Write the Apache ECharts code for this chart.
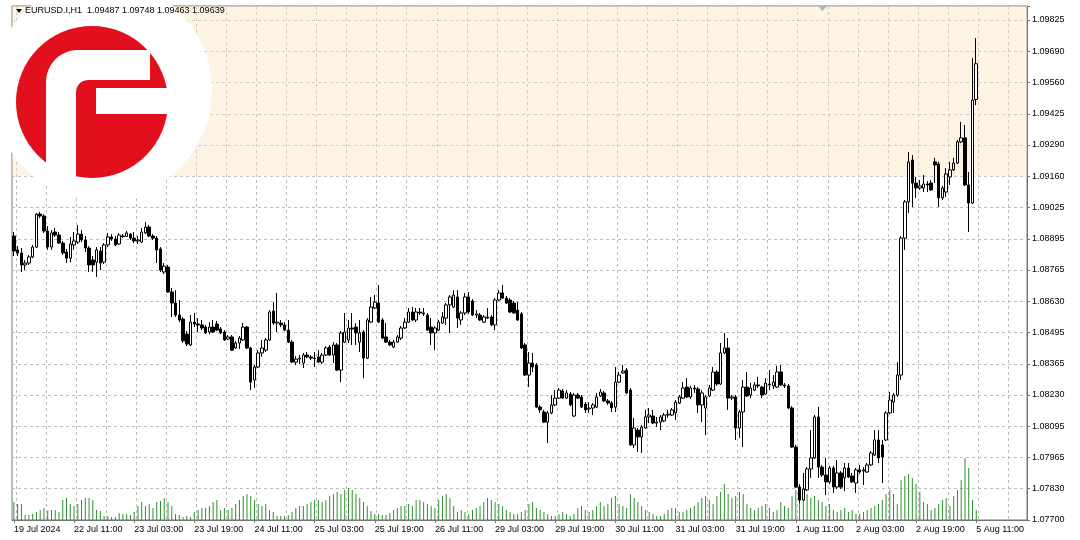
<!DOCTYPE html>
<html><head><meta charset="utf-8">
<script src="https://cdn.jsdelivr.net/npm/echarts@6/dist/echarts.min.js"></script>
<style>html,body{margin:0;padding:0;background:#fff}#c{width:1080px;height:540px}</style>
</head><body><div id="c"></div>
<script>
// ---- data (EURUSD.I, H1) ----
const dayList = ['19 Jul','22 Jul','23 Jul','24 Jul','25 Jul','26 Jul','29 Jul','30 Jul','31 Jul','1 Aug','2 Aug','5 Aug'];
const xTickLabels = ['19 Jul 2024','22 Jul 11:00','23 Jul 03:00','23 Jul 19:00','24 Jul 11:00','25 Jul 03:00','25 Jul 19:00','26 Jul 11:00','29 Jul 03:00','29 Jul 19:00','30 Jul 11:00','31 Jul 03:00','31 Jul 19:00','1 Aug 11:00','2 Aug 03:00','2 Aug 19:00','5 Aug 11:00'];
const yTickLabels = ['1.07700','1.07830','1.07965','1.08095','1.08230','1.08365','1.08495','1.08630','1.08765','1.08895','1.09025','1.09160','1.09290','1.09425','1.09560','1.09690','1.09825'];
const header = 'EURUSD.I,H1  1.09487 1.09748 1.09463 1.09639';
const lastPrice = 1.09639;
const zoneLow = 1.0916;

const openP = [
1.08907,1.08848,1.08835,1.08784,1.08792,1.08818,1.08860,1.09000,1.08992,1.08928,
1.08860,1.08924,1.08911,1.08877,1.08839,1.08813,1.08869,1.08881,1.08915,1.08890,
1.08856,1.08805,1.08796,1.08843,1.08796,1.08869,1.08903,1.08894,1.08873,1.08907,
1.08905,1.08915,1.08898,1.08886,1.08881,1.08920,1.08945,1.08907,1.08898,1.08852,
1.08754,1.08775,1.08669,1.08622,1.08571,1.08554,1.08490,1.08444,1.08541,1.08533,
1.08529,1.08520,1.08499,1.08520,1.08533,1.08512,1.08499,1.08469,1.08478,1.08431,
1.08452,1.08465,1.08520,1.08431,1.08295,1.08350,1.08410,1.08422,1.08465,1.08588,
1.08537,1.08537,1.08529,1.08507,1.08456,1.08371,1.08384,1.08367,1.08401,1.08393,
1.08388,1.08393,1.08371,1.08401,1.08435,1.08401,1.08444,1.08337,1.08456,1.08465,
1.08516,1.08520,1.08456,1.08499,1.08388,1.08541,1.08601,1.08622,1.08550,1.08478,
1.08456,1.08435,1.08456,1.08473,1.08516,1.08541,1.08584,1.08550,1.08584,1.08580,
1.08571,1.08520,1.08495,1.08507,1.08537,1.08558,1.08614,1.08605,1.08648,1.08550,
1.08580,1.08648,1.08631,1.08571,1.08571,1.08541,1.08563,1.08563,1.08529,1.08635,
1.08665,1.08643,1.08635,1.08622,1.08592,1.08576,1.08444,1.08316,1.08367,1.08359,
1.08180,1.08159,1.08116,1.08155,1.08189,1.08218,1.08248,1.08218,1.08235,1.08142,
1.08231,1.08223,1.08193,1.08172,1.08176,1.08180,1.08227,1.08240,1.08206,1.08197,
1.08180,1.08286,1.08325,1.08337,1.08252,1.08019,1.08082,1.08053,1.08091,1.08138,
1.08142,1.08112,1.08116,1.08121,1.08146,1.08146,1.08155,1.08197,1.08218,1.08265,
1.08223,1.08261,1.08257,1.08189,1.08176,1.08227,1.08252,1.08329,1.08278,1.08410,
1.08431,1.08218,1.08223,1.08091,1.08159,1.08265,1.08231,1.08252,1.08274,1.08265,
1.08235,1.08278,1.08270,1.08265,1.08329,1.08274,1.08270,1.08176,1.08010,1.07840,
1.07785,1.07828,1.07917,1.07964,1.08138,1.07925,1.07891,1.07862,1.07921,1.07840,
1.07900,1.07879,1.07921,1.07887,1.07857,1.07913,1.07908,1.07904,1.07934,1.07976,
1.08040,1.08019,1.08040,1.08155,1.08201,1.08231,1.08316,1.08898,1.09052,1.09230,
1.09132,1.09111,1.09111,1.09128,1.09132,1.09222,1.09213,1.09069,1.09094,1.09158,
1.09188,1.09217,1.09307,1.09324,1.09124,1.09047,1.09487];
const highP = [
1.08924,1.08864,1.08856,1.08805,1.08826,1.08869,1.09005,1.09009,1.09000,1.08949,
1.08932,1.08941,1.08924,1.08886,1.08852,1.08903,1.08924,1.08954,1.08932,1.08907,
1.08864,1.08822,1.08860,1.08860,1.08877,1.08920,1.08915,1.08907,1.08920,1.08915,
1.08928,1.08920,1.08924,1.08907,1.08941,1.08966,1.08954,1.08915,1.08907,1.08860,
1.08792,1.08784,1.08686,1.08677,1.08635,1.08563,1.08503,1.08571,1.08580,1.08558,
1.08550,1.08529,1.08541,1.08550,1.08546,1.08520,1.08507,1.08486,1.08486,1.08461,
1.08482,1.08537,1.08524,1.08435,1.08359,1.08422,1.08465,1.08473,1.08592,1.08626,
1.08665,1.08550,1.08541,1.08550,1.08465,1.08397,1.08401,1.08410,1.08414,1.08401,
1.08414,1.08422,1.08410,1.08439,1.08444,1.08456,1.08452,1.08503,1.08580,1.08550,
1.08580,1.08537,1.08550,1.08507,1.08558,1.08648,1.08656,1.08699,1.08558,1.08537,
1.08465,1.08465,1.08486,1.08524,1.08558,1.08601,1.08605,1.08601,1.08601,1.08601,
1.08580,1.08558,1.08524,1.08550,1.08584,1.08622,1.08656,1.08677,1.08677,1.08588,
1.08665,1.08669,1.08639,1.08592,1.08580,1.08571,1.08601,1.08571,1.08643,1.08677,
1.08699,1.08652,1.08643,1.08631,1.08626,1.08584,1.08452,1.08414,1.08410,1.08367,
1.08189,1.08168,1.08163,1.08231,1.08252,1.08261,1.08257,1.08252,1.08244,1.08240,
1.08240,1.08231,1.08201,1.08201,1.08197,1.08240,1.08257,1.08248,1.08214,1.08206,
1.08350,1.08329,1.08359,1.08346,1.08261,1.08134,1.08091,1.08104,1.08168,1.08176,
1.08168,1.08138,1.08146,1.08155,1.08168,1.08176,1.08210,1.08231,1.08286,1.08303,
1.08270,1.08274,1.08265,1.08252,1.08231,1.08274,1.08350,1.08337,1.08452,1.08495,
1.08473,1.08231,1.08231,1.08168,1.08295,1.08329,1.08282,1.08286,1.08308,1.08270,
1.08303,1.08337,1.08316,1.08355,1.08359,1.08282,1.08278,1.08184,1.08019,1.07853,
1.07900,1.07925,1.08082,1.08146,1.08180,1.07934,1.07964,1.07930,1.07930,1.07955,
1.07908,1.07942,1.07942,1.07900,1.07921,1.07934,1.07925,1.07942,1.07993,1.08082,
1.08082,1.08040,1.08163,1.08244,1.08240,1.08371,1.08907,1.09060,1.09264,1.09251,
1.09158,1.09145,1.09166,1.09141,1.09145,1.09239,1.09222,1.09120,1.09196,1.09222,
1.09239,1.09315,1.09392,1.09379,1.09179,1.09664,1.09748];
const lowP = [
1.08822,1.08822,1.08754,1.08762,1.08784,1.08813,1.08856,1.08983,1.08920,1.08848,
1.08848,1.08903,1.08873,1.08826,1.08792,1.08796,1.08848,1.08873,1.08881,1.08839,
1.08754,1.08754,1.08733,1.08762,1.08788,1.08860,1.08886,1.08864,1.08869,1.08898,
1.08903,1.08890,1.08877,1.08873,1.08877,1.08915,1.08903,1.08890,1.08792,1.08754,
1.08745,1.08665,1.08563,1.08563,1.08541,1.08452,1.08439,1.08439,1.08520,1.08499,
1.08507,1.08490,1.08490,1.08495,1.08503,1.08490,1.08461,1.08465,1.08418,1.08427,
1.08427,1.08461,1.08427,1.08252,1.08261,1.08346,1.08393,1.08414,1.08461,1.08529,
1.08499,1.08520,1.08503,1.08452,1.08367,1.08359,1.08363,1.08346,1.08388,1.08380,
1.08350,1.08367,1.08363,1.08397,1.08397,1.08367,1.08333,1.08286,1.08452,1.08452,
1.08444,1.08444,1.08414,1.08303,1.08384,1.08537,1.08597,1.08537,1.08469,1.08452,
1.08439,1.08431,1.08452,1.08465,1.08512,1.08537,1.08546,1.08541,1.08571,1.08567,
1.08503,1.08444,1.08422,1.08503,1.08533,1.08529,1.08495,1.08601,1.08516,1.08529,
1.08571,1.08576,1.08567,1.08558,1.08546,1.08537,1.08554,1.08524,1.08507,1.08631,
1.08639,1.08618,1.08580,1.08576,1.08546,1.08427,1.08312,1.08265,1.08329,1.08176,
1.08155,1.08112,1.08027,1.08150,1.08184,1.08214,1.08214,1.08214,1.08184,1.08138,
1.08214,1.08176,1.08155,1.08155,1.08146,1.08176,1.08223,1.08201,1.08189,1.08159,
1.08159,1.08282,1.08321,1.08235,1.08015,1.08006,1.07989,1.07985,1.08087,1.08112,
1.08108,1.08095,1.08082,1.08116,1.08134,1.08142,1.08125,1.08193,1.08214,1.08218,
1.08214,1.08240,1.08155,1.08116,1.08061,1.08223,1.08248,1.08270,1.08274,1.08406,
1.08168,1.08210,1.08040,1.08049,1.08010,1.08223,1.08218,1.08248,1.08261,1.08218,
1.08231,1.08252,1.08257,1.08261,1.08270,1.08261,1.08172,1.08006,1.07836,1.07772,
1.07781,1.07823,1.07879,1.07959,1.07879,1.07883,1.07806,1.07853,1.07815,1.07832,
1.07832,1.07823,1.07879,1.07857,1.07815,1.07896,1.07849,1.07900,1.07930,1.07972,
1.07942,1.07857,1.08036,1.08150,1.08155,1.08223,1.08295,1.08848,1.09005,1.09030,
1.09069,1.09103,1.09094,1.09094,1.09098,1.09132,1.09030,1.09060,1.09073,1.09124,
1.09183,1.09213,1.09302,1.09120,1.08924,1.09043,1.09463];
const closeP = [
1.08843,1.08835,1.08784,1.08792,1.08818,1.08860,1.09000,1.08992,1.08928,1.08860,
1.08920,1.08911,1.08877,1.08835,1.08813,1.08873,1.08886,1.08915,1.08890,1.08856,
1.08784,1.08784,1.08848,1.08792,1.08869,1.08903,1.08894,1.08869,1.08911,1.08905,
1.08920,1.08898,1.08886,1.08890,1.08924,1.08945,1.08907,1.08898,1.08848,1.08762,
1.08779,1.08669,1.08622,1.08571,1.08550,1.08461,1.08448,1.08541,1.08533,1.08529,
1.08516,1.08495,1.08520,1.08499,1.08507,1.08495,1.08465,1.08478,1.08422,1.08452,
1.08473,1.08520,1.08431,1.08286,1.08350,1.08410,1.08431,1.08465,1.08584,1.08537,
1.08541,1.08529,1.08507,1.08456,1.08371,1.08384,1.08388,1.08401,1.08393,1.08388,
1.08386,1.08371,1.08401,1.08431,1.08401,1.08444,1.08337,1.08495,1.08499,1.08516,
1.08512,1.08495,1.08495,1.08388,1.08550,1.08605,1.08626,1.08541,1.08473,1.08456,
1.08444,1.08456,1.08478,1.08516,1.08541,1.08584,1.08550,1.08584,1.08580,1.08576,
1.08507,1.08495,1.08516,1.08541,1.08563,1.08614,1.08648,1.08656,1.08558,1.08580,
1.08648,1.08584,1.08571,1.08576,1.08550,1.08563,1.08558,1.08529,1.08635,1.08665,
1.08643,1.08622,1.08584,1.08580,1.08550,1.08431,1.08316,1.08367,1.08350,1.08180,
1.08168,1.08116,1.08155,1.08189,1.08218,1.08252,1.08218,1.08240,1.08189,1.08231,
1.08218,1.08180,1.08168,1.08176,1.08189,1.08223,1.08244,1.08206,1.08197,1.08176,
1.08286,1.08316,1.08333,1.08240,1.08019,1.08091,1.08053,1.08095,1.08138,1.08146,
1.08112,1.08116,1.08138,1.08146,1.08150,1.08168,1.08201,1.08223,1.08261,1.08223,
1.08261,1.08257,1.08189,1.08240,1.08223,1.08261,1.08329,1.08278,1.08410,1.08431,
1.08218,1.08223,1.08091,1.08159,1.08265,1.08227,1.08261,1.08274,1.08270,1.08231,
1.08282,1.08274,1.08286,1.08329,1.08274,1.08270,1.08176,1.08010,1.07840,1.07785,
1.07832,1.07917,1.07964,1.08138,1.07925,1.07891,1.07862,1.07921,1.07840,1.07900,
1.07840,1.07921,1.07883,1.07862,1.07913,1.07904,1.07913,1.07934,1.07985,1.08040,
1.07964,1.07968,1.08155,1.08210,1.08231,1.08316,1.08898,1.09052,1.09222,1.09132,
1.09111,1.09120,1.09128,1.09124,1.09103,1.09209,1.09069,1.09111,1.09171,1.09188,
1.09217,1.09307,1.09324,1.09124,1.09047,1.09485,1.09639];
const tickVolume = [
1800,1600,1600,500,500,600,800,1000,1200,900,1000,1000,800,2000,2200,1600,
1400,1600,2000,2200,2200,2000,1000,900,400,400,300,300,700,600,600,500,
800,1400,1800,1400,1600,1200,1800,1900,2200,1800,1400,600,500,300,400,300,
800,1000,1200,1200,1400,1800,2000,1000,1200,1000,1200,1600,2000,2400,2600,2400,
2000,1600,1400,1600,1000,800,400,400,400,500,800,1200,1400,1400,1600,1800,
2000,2000,1800,2000,2400,2600,2800,2600,3000,3200,3000,2600,2200,1800,1400,900,
600,600,500,500,700,1000,1200,1400,1400,1600,1400,2000,2000,1800,1600,1400,
1200,2000,2400,2600,2200,1400,800,1000,800,600,1000,1200,1400,1800,2200,2000,
1800,1600,1400,1000,800,600,600,800,1000,1600,1800,1200,1000,800,600,400,
400,600,800,600,400,600,1200,1400,1000,800,1000,1400,1800,1400,1600,2200,
2400,1600,1400,1200,2600,2200,1800,1400,1000,800,600,400,400,600,1000,1200,
1200,800,800,1000,1200,1400,1800,2200,2400,2000,1600,2400,2800,3600,2600,2200,
2400,2800,2600,1600,1200,1000,1200,1400,1600,1200,800,1000,1800,1400,1200,2400,
3000,3600,3000,2600,2200,2400,2000,1800,1400,1600,1000,800,1000,1200,800,1000,
600,600,800,1000,1200,1400,1600,2000,2600,3000,2600,1600,4000,4400,4600,4200,
3600,2800,1800,1600,1000,1200,1600,2000,2200,1400,2400,3000,4000,6200,5200,2000,
1000];

// ---- categories (H1 bars, weekend skipped) ----
const cats = [];
dayList.forEach((d, di) => {
  const h0 = di === 0 ? 19 : 0;
  const h1 = di === dayList.length - 1 ? 11 : 23;
  for (let h = h0; h <= h1; h++) cats.push(d + ' ' + String(h).padStart(2, '0') + ':00');
});
const SHIFT = 13;               // empty bars on the right (chart shift)
const xCats = cats.concat(Array(SHIFT).fill(''));
const LABEL_STEP = 16;
const GRID_STEP = 8;

const Y_MIN = 1.077, Y_STEP = 0.02125 / 16, Y_MAX = 1.098845;

const candle = openP.map((o, i) => [o, closeP[i], lowP[i], highP[i]]);

// logo outline (decoration): rounded "Γ" of the F mark
function arcPts(cx, cy, r, a0, a1, n) {
  const p = [];
  for (let k = 0; k <= n; k++) { const a = a0 + (a1 - a0) * k / n; p.push([cx + r * Math.cos(a), cy + r * Math.sin(a)]); }
  return p;
}
const fShape = [[46, 186]]
  .concat(arcPts(78, 82, 32, Math.PI, 1.5 * Math.PI, 12))
  .concat([[150, 50], [150, 80]])
  .concat(arcPts(88, 92, 12, -0.5 * Math.PI, -Math.PI, 6))
  .concat([[76, 186]]);

const chart = echarts.init(document.getElementById('c'));
const FONT = 'Liberation Sans, Arial, sans-serif';
chart.setOption({
  animation: false,
  backgroundColor: '#ffffff',
  grid: { left: 12, right: 53, top: 6, bottom: 20, show: true, borderColor: '#777777', borderWidth: 1, backgroundColor: 'transparent' },
  xAxis: {
    type: 'category', data: xCats, boundaryGap: true,
    axisLine: { show: true, lineStyle: { color: '#777777' } },
    axisTick: { show: true, alignWithLabel: true, length: 3, lineStyle: { color: '#777777' },
      interval: (i) => i % LABEL_STEP === 0 && i < cats.length },
    axisLabel: { show: true, interval: (i) => i % LABEL_STEP === 0 && i < cats.length,
      formatter: (v, i) => xTickLabels[Math.round(i / LABEL_STEP)] || '',
      align: 'left', margin: 5, fontSize: 9, color: '#000', fontFamily: FONT },
    splitLine: { show: true, interval: (i) => i % GRID_STEP === 1, lineStyle: { color: '#bdbdbd', type: [3, 3], width: 1 } }
  },
  yAxis: [{
    type: 'value', position: 'right', min: Y_MIN, max: Y_MAX, interval: Y_STEP, scale: true,
    axisLine: { show: true, lineStyle: { color: '#777777' } },
    axisTick: { show: true, length: 3, inside: false, lineStyle: { color: '#777777' } },
    axisLabel: { margin: 5, fontSize: 9, color: '#000', fontFamily: FONT,
      formatter: (v) => { const k = Math.round((v - Y_MIN) / Y_STEP); return (Math.abs(v - (Y_MIN + k * Y_STEP)) < 1e-7 && yTickLabels[k]) ? yTickLabels[k] : ''; } },
    splitLine: { show: true, lineStyle: { color: '#bdbdbd', type: [3, 3], width: 1 } }
  }, {
    type: 'value', min: 0, max: 51400, show: false, splitLine: { show: false }
  }],
  series: [{
    type: 'bar', name: 'Volume', data: tickVolume, yAxisIndex: 1, barWidth: 1, silent: true,
    itemStyle: { color: '#2f8f2f' }, z: 1
  }, {
    type: 'candlestick', name: 'EURUSD', data: candle, barWidth: 3, silent: true, z: 3,
    itemStyle: { color: '#ffffff', color0: '#000000', borderColor: '#000000', borderColor0: '#000000', borderWidth: 1 },
    markArea: { silent: true, itemStyle: { color: 'rgba(250,226,186,0.38)' },
      data: [[{ yAxis: zoneLow }, { yAxis: Y_MAX }]] },
    markLine: { silent: true, symbol: ['none', 'none'], animation: false,
      lineStyle: { color: '#c4bdb0', type: 'solid', width: 1 },
      label: { show: true, position: 'end', distance: 1, formatter: lastPrice.toFixed(5), backgroundColor: '#000', color: '#fff', fontSize: 9, fontFamily: FONT, padding: [1, 2, 0, 2] },
      data: [{ yAxis: lastPrice }] }
  }],
  graphic: [
    { type: 'circle', shape: { cx: 102, cy: 90, r: 110 }, style: { fill: '#ffffff' }, z: 50, silent: true },
    { type: 'circle', shape: { cx: 92, cy: 102, r: 76 }, style: { fill: '#e2101c' }, z: 51, silent: true },
    { type: 'polygon', shape: { points: fShape }, style: { fill: '#ffffff' }, z: 52, silent: true },
    { type: 'rect', shape: { x: 96, y: 88, width: 80, height: 26 }, style: { fill: '#ffffff' }, z: 52, silent: true },
    { type: 'polygon', shape: { points: [[16, 9], [22, 9], [19, 13]] }, style: { fill: '#000' }, z: 60, silent: true },
    { type: 'text', x: 25, y: 6, style: { text: header, fontSize: 9, fontFamily: FONT, fill: '#000' }, z: 60, silent: true },
    { type: 'polygon', shape: { points: [[818, 6], [827, 6], [822.5, 11]] }, style: { fill: '#b4b4b4' }, z: 60, silent: true }
  ]
});
</script></body></html>
